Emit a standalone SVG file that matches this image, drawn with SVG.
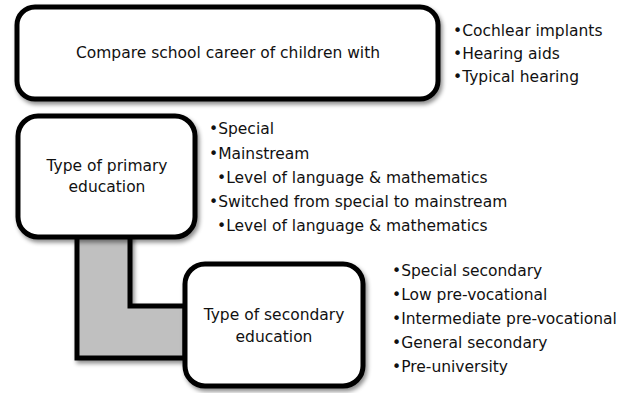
<svg xmlns="http://www.w3.org/2000/svg" width="628" height="393" viewBox="0 0 628 393">
  <defs>
    <filter id="sh" x="-10%" y="-10%" width="125%" height="130%">
      <feDropShadow dx="2" dy="3" stdDeviation="2" flood-color="#000" flood-opacity="0.45"/>
    </filter>
    <style>
      .box { fill: #ffffff; stroke: #000000; stroke-width: 5; filter: url(#sh); }
      .conn { fill: #c0c0c0; stroke: #000000; stroke-width: 5; stroke-linejoin: miter; filter: url(#sh); }
      text { font-family: "DejaVu Sans", "Liberation Sans", sans-serif; font-size: 15.5px; fill: #111111; }
      .c { text-anchor: middle; }
    </style>
  </defs>
  <rect width="628" height="393" fill="#ffffff"/>
  <g id="connectors">
    <polygon class="conn" points="77,236 130,236 130,306 185,306 185,358 77,358"/>
  </g>
  <g id="node-compare">
    <rect class="box" x="17" y="7" width="421" height="92" rx="18" ry="18"/>
    <text class="c" x="228" y="58">Compare school career of children with</text>
  </g>
  <g id="list-groups">
    <text x="453" y="36">•Cochlear implants</text>
    <text x="453" y="59">•Hearing aids</text>
    <text x="453" y="82">•Typical hearing</text>
  </g>
  <g id="node-primary">
    <rect class="box" x="18" y="116" width="177" height="121" rx="20" ry="20"/>
    <text class="c" x="107" y="171">Type of primary</text>
    <text class="c" x="107" y="192">education</text>
  </g>
  <g id="list-primary">
    <text x="209" y="134">•Special</text>
    <text x="209" y="159">•Mainstream</text>
    <text x="217" y="183">•Level of language &amp; mathematics</text>
    <text x="209" y="207">•Switched from special to mainstream</text>
    <text x="217" y="231">•Level of language &amp; mathematics</text>
  </g>
  <g id="node-secondary">
    <rect class="box" x="185" y="264" width="178" height="122" rx="20" ry="20"/>
    <text class="c" x="274" y="320">Type of secondary</text>
    <text class="c" x="274" y="342">education</text>
  </g>
  <g id="list-secondary">
    <text x="392" y="276">•Special secondary</text>
    <text x="392" y="300">•Low pre-vocational</text>
    <text x="392" y="324">•Intermediate pre-vocational</text>
    <text x="392" y="348">•General secondary</text>
    <text x="392" y="372">•Pre-university</text>
  </g>
</svg>
